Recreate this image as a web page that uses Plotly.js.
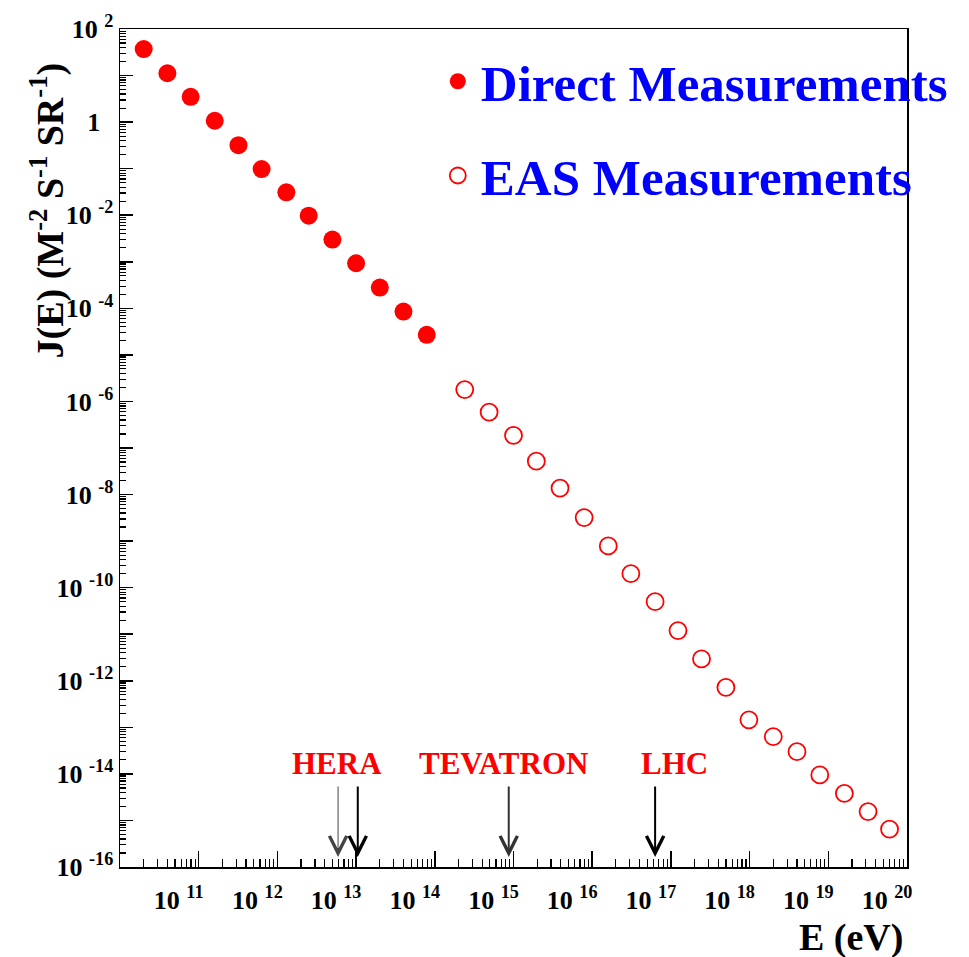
<!DOCTYPE html>
<html><head><meta charset="utf-8">
<script src="https://cdn.plot.ly/plotly-3.0.1.min.js"></script>
<style>html,body{margin:0;padding:0;background:#fff}#chart{width:969px;height:957px}</style>
</head><body><div id="chart"></div>
<script>
// Direct measurements (filled)
const directE = [2.0e10, 4.0e10, 7.9e10, 1.6e11, 3.2e11, 6.3e11, 1.3e12, 2.5e12, 5.0e12, 1.0e13, 2.0e13, 4.0e13, 7.9e13];
const directJ = [37, 11.2, 3.5, 1.07, 0.32, 0.098, 0.031, 0.0098, 0.0030, 9.3e-4, 2.8e-4, 8.5e-5, 2.7e-5];
// EAS measurements (open)
const easE = [2.4e14, 4.9e14, 1.0e15, 1.95e15, 3.9e15, 7.9e15, 1.6e16, 3.1e16, 6.3e16, 1.23e17, 2.45e17, 5.0e17, 9.8e17, 2.0e18, 4.0e18, 7.8e18, 1.6e19, 3.2e19, 6.0e19];
const easJ = [1.8e-6, 5.9e-7, 1.86e-7, 5.2e-8, 1.38e-8, 3.2e-9, 7.9e-10, 2.0e-10, 5.0e-11, 1.2e-11, 2.95e-12, 7.2e-13, 1.45e-13, 6.3e-14, 3.0e-14, 9.5e-15, 3.8e-15, 1.55e-15, 6.5e-16];
// Tick labels
const xTickExp = [11, 12, 13, 14, 15, 16, 17, 18, 19, 20];
const xTickText = ['10 <sup>11</sup>', '10 <sup>12</sup>', '10 <sup>13</sup>', '10 <sup>14</sup>', '10 <sup>15</sup>', '10 <sup>16</sup>', '10 <sup>17</sup>', '10 <sup>18</sup>', '10 <sup>19</sup>', '10 <sup>20</sup>'];
const yTickExp = [-16, -14, -12, -10, -8, -6, -4, -2, 0, 2];
const yTickText = ['10 <sup>-16</sup>', '10 <sup>-14</sup>', '10 <sup>-12</sup>', '10 <sup>-10</sup>', '10 <sup>-8</sup>', '10 <sup>-6</sup>', '10 <sup>-4</sup>', '10 <sup>-2</sup>', '1  ', '10 <sup>2</sup>'];
const yOddDecades = [-15, -13, -11, -9, -7, -5, -3, -1, 1];
// Accelerators (equivalent fixed-target energies)
const accelNames = ['HERA', 'TEVATRON', 'LHC'];
const accelLabelE = [5.75e12, 7.4e14, 1.12e17];
const arrowE = [5.9e12, 1.05e13, 8.7e14, 6.3e16];

const serif = 'Liberation Serif, Times New Roman, serif';

const traces = [
  {x: directE, y: directJ, type: 'scatter', mode: 'markers', name: 'Direct Measurements',
   legendgroup: 'a',
   marker: {symbol: 'circle', size: 18, color: '#ff0000', line: {width: 0}}},
  {x: easE, y: easJ, type: 'scatter', mode: 'markers', name: 'EAS Measurements',
   legendgroup: 'b',
   marker: {symbol: 'circle-open', size: 17, color: '#ff0000', line: {width: 1.8, color: '#ff0000'}}},
  // carrier for odd-decade major ticks on the left axis (no marks drawn)
  {x: [], y: [], yaxis: 'y2', type: 'scatter', mode: 'markers', showlegend: false, hoverinfo: 'skip'}
];

const annotations = [];
const arrowW = [1, 2, 2, 2];
const arrowC = ['#444', '#000', '#333', '#000'];
arrowE.forEach((e, i) => {
  annotations.push({x: Math.log10(e), xref: 'x', y: 0.012, yref: 'paper', text: '',
    showarrow: true, ax: 0, ay: -72, arrowhead: 5, arrowsize: 3.4 / arrowW[i], arrowwidth: arrowW[i],
    arrowcolor: arrowC[i], standoff: 0});
});
accelNames.forEach((n, i) => {
  annotations.push({x: Math.log10(accelLabelE[i]), xref: 'x', y: 0.124, yref: 'paper', text: n,
    showarrow: false, xanchor: 'center', yanchor: 'middle',
    font: {family: serif, size: 31, color: '#ff0000', weight: 'bold'}});
});
annotations.push({x: -0.092, xref: 'paper', y: 0.783, yref: 'paper', textangle: -90,
  text: 'J(E) (M<sup>-2</sup> S<sup>-1</sup> SR<sup>-1</sup>)', showarrow: false,
  xanchor: 'center', yanchor: 'middle', font: {family: serif, size: 38, color: '#000', weight: 'bold'}});
annotations.push({x: 0.998, xref: 'paper', y: -0.084, yref: 'paper', text: 'E (eV)', showarrow: false,
  xanchor: 'right', yanchor: 'middle', font: {family: serif, size: 38, color: '#000', weight: 'bold'}});

const layout = {
  width: 969, height: 957,
  margin: {l: 120, r: 62, t: 29, b: 90},
  paper_bgcolor: '#fff', plot_bgcolor: '#fff',
  showlegend: true,
  legend: {x: 0.40, xanchor: 'left', y: 0.985, yanchor: 'top', bgcolor: 'rgba(0,0,0,0)',
    traceorder: 'grouped', tracegroupgap: 25, itemwidth: 36,
    font: {family: serif, size: 51, color: '#0000ff', weight: 'bold'}},
  xaxis: {type: 'log', range: [10, 20], showgrid: false, zeroline: false,
    showline: true, linecolor: '#000', linewidth: 1.5, mirror: true,
    tickmode: 'array', tickvals: xTickExp.map(v => Math.pow(10, v)), ticktext: xTickText,
    ticks: 'inside', ticklen: 16, tickwidth: 1.5, tickcolor: '#000',
    ticklabelshift: -20, ticklabelstandoff: 9,
    minor: {ticks: 'inside', ticklen: 8, tickwidth: 1.2, tickcolor: '#000', dtick: 'D1'},
    tickfont: {family: serif, size: 26, color: '#000', weight: 'bold'}},
  yaxis: {type: 'log', range: [-16, 2], showgrid: false, zeroline: false,
    showline: true, linecolor: '#000', linewidth: 1.5, mirror: true,
    tickmode: 'array', tickvals: yTickExp.map(v => Math.pow(10, v)), ticktext: yTickText,
    ticks: 'inside', ticklen: 13, tickwidth: 1.5, tickcolor: '#000',
    minor: {ticks: 'inside', ticklen: 6, tickwidth: 1.2, tickcolor: '#000', dtick: 'D1'},
    tickfont: {family: serif, size: 26, color: '#000', weight: 'bold'}},
  yaxis2: {type: 'log', range: [-16, 2], overlaying: 'y', anchor: 'x', side: 'left',
    showgrid: false, zeroline: false, showline: false, showticklabels: false,
    tickmode: 'array', tickvals: yOddDecades.map(v => Math.pow(10, v)),
    ticks: 'inside', ticklen: 13, tickwidth: 1.5, tickcolor: '#000'},
  annotations: annotations
};

Plotly.newPlot('chart', traces, layout, {displayModeBar: false, staticPlot: true});
</script>
</body></html>
